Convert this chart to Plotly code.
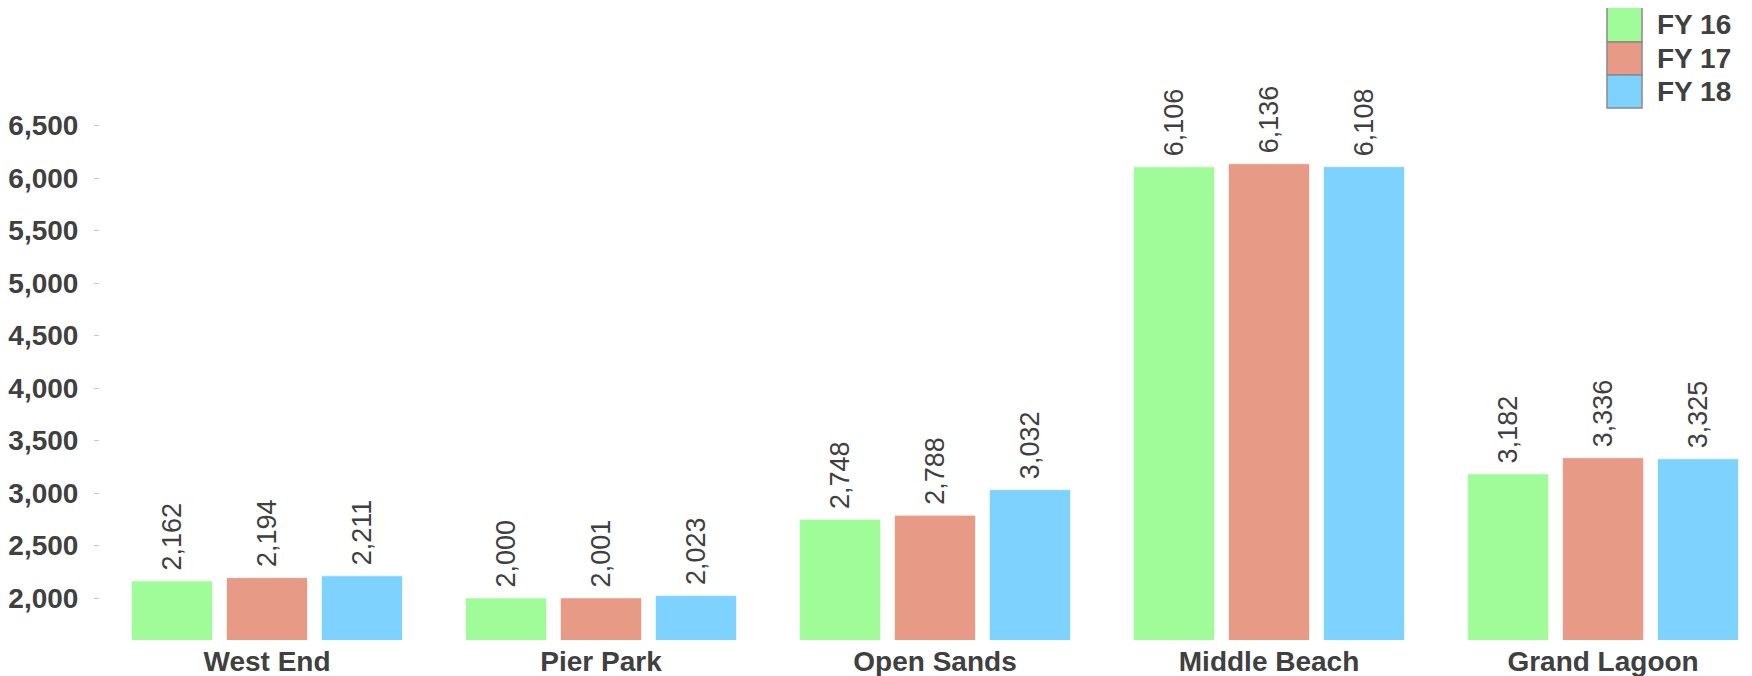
import plotly.graph_objects as go

# Datos
categorias = ["West End", "Pier Park", "Open Sands", "Middle Beach", "Grand Lagoon"]
fy16 = [2162, 2000, 2748, 6106, 3182]
fy17 = [2194, 2001, 2788, 6136, 3336]
fy18 = [2211, 2023, 3032, 6108, 3325]
series = ["FY 16", "FY 17", "FY 18"]
y_ticks = [2000, 2500, 3000, 3500, 4000, 4500, 5000, 5500, 6000, 6500]

COLORES = ["#9ffc98", "#e79a86", "#7ed2fe"]
TINTA = "#404040"
FUENTE = "Liberation Sans, Arial, sans-serif"

# la página html deja 8 px de margen en el body
OFF = 8
W, H = 1752 - OFF, 676 - OFF
M = dict(l=92, r=4, t=0, b=36)
PW, PH = W - M["l"] - M["r"], H - M["t"] - M["b"]


def px_x(px):
    return (px - OFF - M["l"]) / PW


def px_y(py):
    return (H - M["b"] - (py - OFF)) / PH


fig = go.Figure()
for nombre, valores, color in zip(series, [fy16, fy17, fy18], COLORES):
    fig.add_trace(go.Bar(
        x=categorias, y=valores, name=nombre,
        marker=dict(color=color, line=dict(color="rgba(255,255,255,0.6)", width=1)),
        text=["\u00a0" + f"{v:,}" for v in valores], textposition="outside", textangle=-90,
        texttemplate="%{text}", constraintext="none", cliponaxis=False,
        textfont=dict(family=FUENTE, size=27, color=TINTA),
        showlegend=False,
    ))

# leyenda manual (cuadros apilados sin separación)
bordes = [7, 42, 75, 108]
for i, (nombre, color) in enumerate(zip(series, COLORES)):
    fig.add_shape(type="rect", xref="paper", yref="paper",
                  x0=px_x(1607), x1=px_x(1642), y0=px_y(bordes[i + 1]), y1=px_y(bordes[i]),
                  fillcolor=color, line=dict(color="#8a8a8a", width=1.5))
    fig.add_annotation(xref="paper", yref="paper", x=px_x(1655),
                       y=px_y((bordes[i] + bordes[i + 1]) / 2),
                       text=nombre, showarrow=False, xanchor="left", yanchor="middle",
                       font=dict(family=FUENTE, size=28, color=TINTA, weight="bold"))

fig.update_layout(
    width=W, height=H, margin=M,
    plot_bgcolor="white", paper_bgcolor="white",
    barmode="group", bargap=0.147, bargroupgap=0.147,
    font=dict(family=FUENTE, color=TINTA),
)
fig.update_xaxes(range=[-0.5, 4.434], showline=False, showgrid=False, ticks="",
                 tickfont=dict(family=FUENTE, size=28, color=TINTA, weight="bold"),
                 ticklabelstandoff=2)
fig.update_yaxes(range=[1600, 7619], tickvals=y_ticks, tickformat=",",
                 showline=False, showgrid=False, zeroline=False,
                 ticks="outside", ticklen=5, tickcolor="#c8c8c8", tickwidth=1,
                 tickfont=dict(family=FUENTE, size=28, color=TINTA, weight="bold"),
                 ticklabelstandoff=10)

fig.write_html("out.html")
